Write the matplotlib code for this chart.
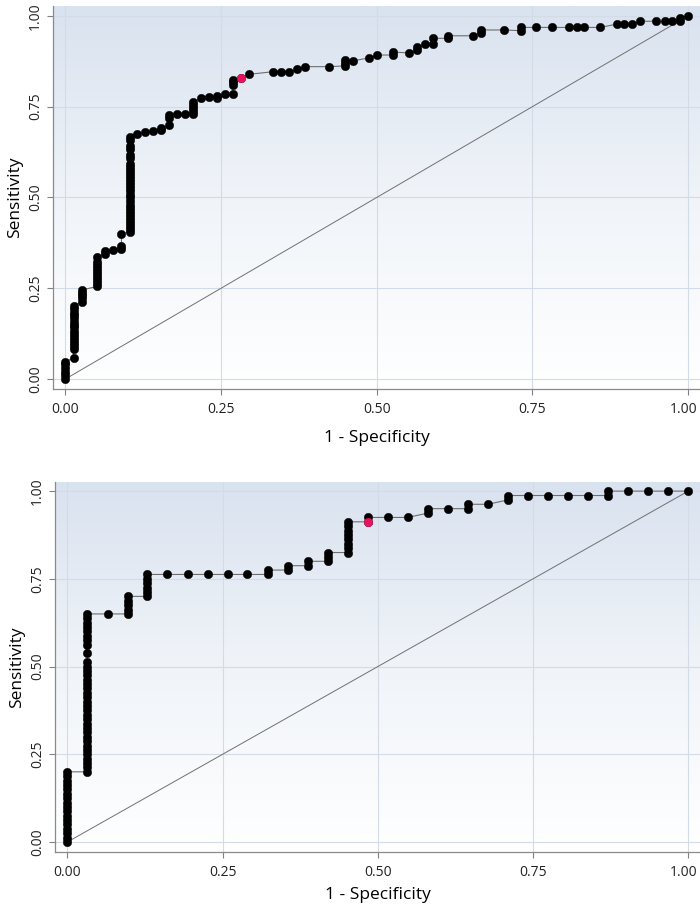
import numpy as np
import matplotlib
matplotlib.use("Agg")
import matplotlib.pyplot as plt
from matplotlib.colors import LinearSegmentedColormap
from matplotlib.transforms import ScaledTranslation

plt.rcParams['font.family'] = ['Open Sans', 'DejaVu Sans']

# ---------------- data: top panel ----------------
top_fpr = [0.000, 0.013, 0.026, 0.051, 0.064, 0.077, 0.090, 0.103, 0.115, 0.128,
           0.141, 0.154, 0.167, 0.179, 0.192, 0.205, 0.218, 0.231, 0.244, 0.256,
           0.269, 0.282, 0.295, 0.333, 0.346, 0.359, 0.372, 0.385, 0.423, 0.449,
           0.462, 0.487, 0.500, 0.526, 0.551, 0.564, 0.577, 0.590, 0.615, 0.654,
           0.667, 0.705, 0.731, 0.756, 0.782, 0.808, 0.821, 0.833, 0.859, 0.885,
           0.897, 0.910, 0.923, 0.949, 0.962, 0.974, 0.987, 1.000]
top_tpr = [
    [0.000, 0.010, 0.020, 0.030, 0.040, 0.048],
    [0.058, 0.083, 0.092, 0.100, 0.108, 0.117, 0.125, 0.133, 0.142, 0.150,
     0.158, 0.167, 0.175, 0.183, 0.192, 0.200],
    [0.213, 0.222, 0.230, 0.238, 0.245],
    [0.255, 0.263, 0.272, 0.280, 0.288, 0.297, 0.305, 0.313, 0.322, 0.337],
    [0.345, 0.352],
    [0.354],
    [0.358, 0.367, 0.400],
    [0.405, 0.413, 0.422, 0.430, 0.438, 0.447, 0.455, 0.463, 0.472, 0.480,
     0.490, 0.500, 0.508, 0.517, 0.525, 0.533, 0.542, 0.550, 0.558, 0.567,
     0.575, 0.583, 0.592, 0.608, 0.617, 0.633, 0.642, 0.658, 0.667],
    [0.674],
    [0.681],
    [0.683],
    [0.685, 0.690],
    [0.700, 0.720, 0.727],
    [0.730],
    [0.730],
    [0.730, 0.738, 0.746, 0.755, 0.763],
    [0.775],
    [0.777],
    [0.775, 0.780],
    [0.784],
    [0.784, 0.810, 0.818, 0.823],
    [0.830],
    [0.839],
    [0.846],
    [0.846],
    [0.846],
    [0.853],
    [0.860],
    [0.860],
    [0.862, 0.870, 0.878],
    [0.876],
    [0.884],
    [0.892],
    [0.892, 0.900],
    [0.898],
    [0.906, 0.915],
    [0.921],
    [0.921, 0.938],
    [0.938, 0.945],
    [0.945],
    [0.954, 0.961],
    [0.961],
    [0.959, 0.968],
    [0.968],
    [0.968],
    [0.968],
    [0.968],
    [0.968],
    [0.968],
    [0.977],
    [0.977],
    [0.977],
    [0.985],
    [0.985],
    [0.985],
    [0.985],
    [0.985, 0.993],
    [1.000],
]
top_cut = (0.282, 0.830)

# ---------------- data: bottom panel ----------------
bot_fpr = [0.000, 0.032, 0.065, 0.097, 0.129, 0.161, 0.194, 0.226, 0.258, 0.290,
           0.323, 0.355, 0.387, 0.419, 0.452, 0.484, 0.516, 0.548, 0.581, 0.613,
           0.645, 0.677, 0.710, 0.742, 0.774, 0.806, 0.839, 0.871, 0.903, 0.935,
           0.968, 1.000]
bot_tpr = [
    [0.0000, 0.0125, 0.0250, 0.0375, 0.0500, 0.0625, 0.0750, 0.0875, 0.1000,
     0.1125, 0.1250, 0.1375, 0.1500, 0.1625, 0.1750, 0.1875, 0.2000],
    [0.2000, 0.2125, 0.2250, 0.2375, 0.2500, 0.2625, 0.2750, 0.2875, 0.3000,
     0.3125, 0.3250, 0.3375, 0.3500, 0.3625, 0.3750, 0.3875, 0.4000, 0.4125,
     0.4250, 0.4375, 0.4500, 0.4625, 0.4750, 0.4875, 0.5000, 0.5125, 0.5375,
     0.5625, 0.5750, 0.5875, 0.6000, 0.6125, 0.6250, 0.6375, 0.6500],
    [0.6500],
    [0.6500, 0.6625, 0.6750, 0.6875, 0.7000],
    [0.7000, 0.7125, 0.7250, 0.7375, 0.7500, 0.7625],
    [0.7625],
    [0.7625],
    [0.7625],
    [0.7625],
    [0.7625],
    [0.7625, 0.7750],
    [0.7750, 0.7875],
    [0.7875, 0.8000],
    [0.8000, 0.8125, 0.8250],
    [0.8250, 0.8375, 0.8500, 0.8625, 0.8750, 0.8875, 0.9000, 0.9125],
    [0.9125, 0.9250],
    [0.9250],
    [0.9250],
    [0.9375, 0.9500],
    [0.9500],
    [0.9500, 0.9625],
    [0.9625],
    [0.9750, 0.9875],
    [0.9875],
    [0.9875],
    [0.9875],
    [0.9875],
    [0.9875, 1.0000],
    [1.0000],
    [1.0000],
    [1.0000],
    [1.0000],
]
bot_cut = (0.484, 0.9125)

ticks = [0.0, 0.25, 0.5, 0.75, 1.0]
tick_labels = ["0.00", "0.25", "0.50", "0.75", "1.00"]


def flatten(fpr, tpr):
    xs, ys = [], []
    for x, col in zip(fpr, tpr):
        for y in col:
            xs.append(x)
            ys.append(y)
    return np.array(xs), np.array(ys)


fig = plt.figure(figsize=(7.0, 9.05), dpi=100)
ax1 = fig.add_axes([53 / 700, 1 - 389 / 905, 1 - 53 / 700, 383 / 905])
ax2 = fig.add_axes([55 / 700, 1 - 852 / 905, 1 - 55 / 700, 370 / 905])

grad_cmap = LinearSegmentedColormap.from_list("bg", ["#ffffff", "#f0f4f9", "#d9e2ef"])
grad = np.linspace(0, 1, 256).reshape(-1, 1)

for ax, fpr, tpr, cut, ylim, lpad in [
    (ax1, top_fpr, top_tpr, top_cut, (-0.0275, 1.027), 9.5),
    (ax2, bot_fpr, bot_tpr, bot_cut, (-0.0285, 1.026), 5.0),
]:
    ax.imshow(grad, aspect="auto", cmap=grad_cmap, origin="lower",
              extent=[0, 1, 0, 1], transform=ax.transAxes, zorder=0)
    ax.set_xlim(-0.02, 1.019)
    ax.set_ylim(*ylim)
    for t in ticks:
        ax.axvline(t, color="#d3dbe6", lw=0.8, zorder=1)
        ax.axhline(t, color="#d3dbe6", lw=0.8, zorder=1)
    ax.plot([0, 1], [0, 1], color="#707070", lw=0.7, zorder=2)
    xs, ys = flatten(fpr, tpr)
    ax.plot(xs, ys, color="#6e6e6e", lw=0.8, zorder=3)
    ax.plot(xs, ys, linestyle="none", marker="o", ms=6.1,
            mfc="black", mec="black", mew=0.3, zorder=4)
    ax.plot([cut[0]], [cut[1]], linestyle="none", marker="o", ms=6.1,
            mfc="#e8135f", mec="#e8135f", mew=0.3, zorder=5)

    ax.set_xticks(ticks)
    ax.set_xticklabels(tick_labels, fontsize=10, color="#222222")
    ax.set_yticks(ticks)
    ax.set_yticklabels(tick_labels, fontsize=10, color="#222222",
                       rotation=90, va="center")
    ax.tick_params(axis="x", length=4, width=0.8, color="#808080", pad=5.5)
    ax.tick_params(axis="y", length=4, width=0.8, color="#808080", pad=3)
    last = ax.get_xticklabels()[-1]
    last.set_transform(last.get_transform() + ScaledTranslation(-3 / 72, 0, fig.dpi_scale_trans))
    for s in ["top", "right"]:
        ax.spines[s].set_visible(False)
    for s in ["left", "bottom"]:
        ax.spines[s].set_color("#8a8a8a")
        ax.spines[s].set_linewidth(0.9)
    ax.set_xlabel("1 - Specificity", fontsize=12.5, labelpad=lpad)
    ax.set_ylabel("Sensitivity", fontsize=12.5, labelpad=4)

fig.savefig("out.png", dpi=100)
